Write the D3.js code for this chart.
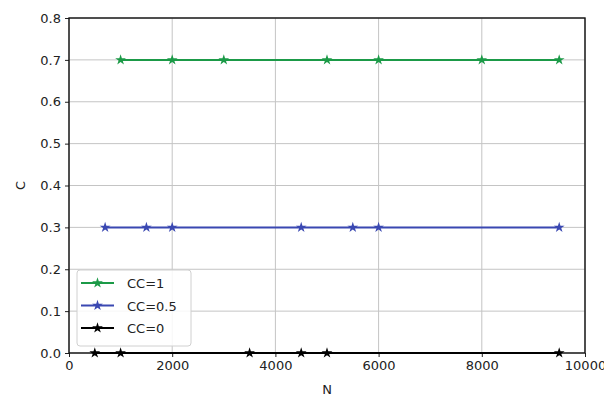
<!DOCTYPE html>
<html>
<head>
<meta charset="utf-8">
<script src="https://cdn.jsdelivr.net/npm/d3@7"></script>
<style>
body { margin:0; background:#fff; }
svg text { font-family: "DejaVu Sans", sans-serif; fill:#222; }
.grid line { stroke:#c4c4c4; stroke-width:1; }
</style>
</head>
<body>
<div id="viz"></div>
<script>
var xTicks = [0, 2000, 4000, 6000, 8000, 10000];
var yTicks = [0.0, 0.1, 0.2, 0.3, 0.4, 0.5, 0.6, 0.7, 0.8];

var seriesNames = ["CC=1", "CC=0.5", "CC=0"];
var seriesColors = ["#1b9a47", "#3a48b2", "#000000"];
var nCC1 = [1000, 2000, 3000, 5000, 6000, 8000, 9500];
var cCC1 = [0.7, 0.7, 0.7, 0.7, 0.7, 0.7, 0.7];
var nCC05 = [700, 1500, 2000, 4500, 5500, 6000, 9500];
var cCC05 = [0.3, 0.3, 0.3, 0.3, 0.3, 0.3, 0.3];
var nCC0 = [500, 1000, 3500, 4500, 5000, 9500];
var cCC0 = [0, 0, 0, 0, 0, 0];

var series = [
  {name: seriesNames[0], color: seriesColors[0], n: nCC1, c: cCC1},
  {name: seriesNames[1], color: seriesColors[1], n: nCC05, c: cCC05},
  {name: seriesNames[2], color: seriesColors[2], n: nCC0, c: cCC0}
];

var W = 604, H = 399;
var margin = {top: 18, right: 19, bottom: 46, left: 69};
var width = W - margin.left - margin.right,
    height = H - margin.top - margin.bottom;

var svg = d3.select('#viz').append("svg")
    .attr("width", W).attr("height", H)
  .append("g")
    .attr("transform", "translate(" + margin.left + "," + margin.top + ")");

var x = d3.scaleLinear().domain([0, 10000]).range([0, width]);
var y = d3.scaleLinear().domain([0, 0.8]).range([height, 0]);

// grid
var grid = svg.append("g").attr("class", "grid");
grid.selectAll(".gx").data(xTicks).enter().append("line")
    .attr("x1", d => x(d)).attr("x2", d => x(d))
    .attr("y1", 0).attr("y2", height);
grid.selectAll(".gy").data(yTicks).enter().append("line")
    .attr("y1", d => y(d)).attr("y2", d => y(d))
    .attr("x1", 0).attr("x2", width);

// axes
var xAxis = svg.append("g")
    .attr("transform", "translate(0," + height + ")")
    .call(d3.axisBottom(x).tickValues(xTicks).tickFormat(d3.format("d")).tickSize(4).tickPadding(4));
var yAxis = svg.append("g")
    .call(d3.axisLeft(y).tickValues(yTicks).tickFormat(d3.format(".1f")).tickSize(4).tickPadding(4));
[xAxis, yAxis].forEach(function(a){
  a.select(".domain").remove();
  a.selectAll("line").attr("stroke", "#222");
  a.selectAll("text").attr("font-size", "13px").attr("fill", "#222");
});

// frame
svg.append("rect")
    .attr("width", width).attr("height", height)
    .attr("fill", "none").attr("stroke", "#111").attr("stroke-width", 1.4);

// series
var star = d3.symbol().type(d3.symbolStar).size(36);
var line = d3.line().x(d => x(d[0])).y(d => y(d[1]));

series.forEach(function(s){
  var pts = s.n.map((v, i) => [v, s.c[i]]);
  svg.append("path")
      .datum(pts)
      .attr("d", line)
      .attr("fill", "none")
      .attr("stroke", s.color)
      .attr("stroke-width", 2);
  svg.selectAll(null).data(pts).enter().append("path")
      .attr("d", star)
      .attr("transform", d => "translate(" + x(d[0]) + "," + y(d[1]) + ")")
      .attr("fill", s.color);
});

// labels
svg.append("text")
    .attr("x", width / 2).attr("y", height + 41)
    .attr("text-anchor", "middle").attr("font-size", "13px").text("N");
svg.append("text")
    .attr("transform", "translate(" + (-44) + "," + (height / 2) + ") rotate(-90)")
    .attr("text-anchor", "middle").attr("font-size", "13px").text("C");

// legend
var lg = svg.append("g").attr("transform", "translate(8," + (height - 83) + ")");
lg.append("rect")
    .attr("width", 114).attr("height", 76).attr("rx", 3)
    .attr("fill", "#fff").attr("fill-opacity", 0.85)
    .attr("stroke", "#d0d0d0");
series.forEach(function(s, i){
  var yy = 13 + i * 22.5;
  lg.append("line")
      .attr("x1", 4).attr("x2", 37).attr("y1", yy).attr("y2", yy)
      .attr("stroke", s.color).attr("stroke-width", 2);
  lg.append("path")
      .attr("d", star)
      .attr("transform", "translate(20.5," + yy + ")")
      .attr("fill", s.color);
  lg.append("text")
      .attr("x", 50).attr("y", yy + 5)
      .attr("font-size", "13px").text(s.name);
});
</script>
</body>
</html>
